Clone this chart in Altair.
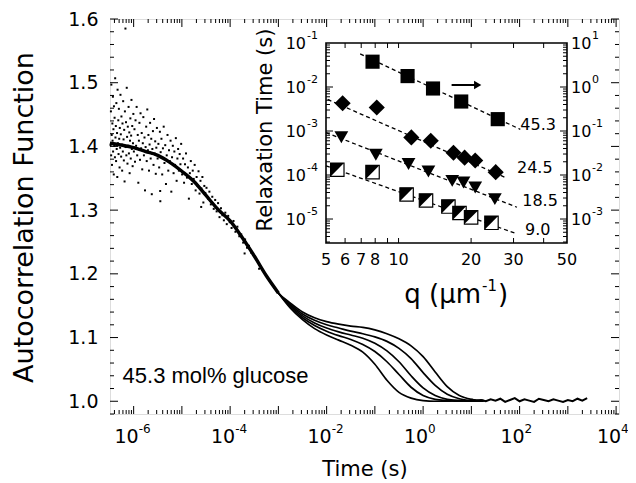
import altair as alt
import pandas as pd

FONT = "DejaVu Sans"

# ---------------- layout (plot-area pixels) ----------------
W, H = 509, 395
X_DOM = [10 ** -6.49, 10 ** 4.06]
Y_DOM = [0.98, 1.6]
IX0, IX1, IY0, IY1 = 216, 457, 24, 224     # inset frame inside the plot area
Q_DOM = [5, 50]
TAU_DOM = [10 ** -5.545, 0.1]

# ---------------- main panel data ----------------
common_logt = [-6.49, -6.25, -6.0, -5.75, -5.5, -5.25, -5.0, -4.75, -4.5, -4.25,
               -4.0, -3.75, -3.5, -3.25, -3.0]
common_g = [1.405, 1.402, 1.398, 1.392, 1.386, 1.375, 1.361, 1.345, 1.323, 1.301,
            1.283, 1.257, 1.228, 1.197, 1.170]
late_logt = [-2.75, -2.5, -2.25, -2.0, -1.75, -1.5, -1.25, -1.0, -0.75, -0.5,
             -0.25, 0.0, 0.25, 0.5, 0.75, 1.0, 1.25]
g_A = [1.146, 1.128, 1.114, 1.104, 1.096, 1.088, 1.077, 1.058, 1.033, 1.014,
       1.005, 1.001, 1.000, 1.000, 1.001, 1.000, 1.001]
g_B = [1.148, 1.131, 1.119, 1.110, 1.103, 1.097, 1.089, 1.078, 1.062, 1.042,
       1.022, 1.009, 1.003, 1.001, 1.000, 1.001, 1.000]
g_C = [1.150, 1.134, 1.123, 1.115, 1.109, 1.104, 1.099, 1.091, 1.079, 1.062,
       1.040, 1.021, 1.009, 1.003, 1.001, 1.000, 1.001]
g_D = [1.152, 1.137, 1.127, 1.120, 1.115, 1.110, 1.106, 1.101, 1.094, 1.083,
       1.067, 1.045, 1.025, 1.011, 1.004, 1.001, 1.000]
g_E = [1.154, 1.140, 1.131, 1.125, 1.121, 1.118, 1.116, 1.112, 1.106, 1.098,
       1.087, 1.070, 1.046, 1.023, 1.009, 1.003, 1.001]
tail_logt = [1.0, 1.1, 1.2, 1.3, 1.4, 1.5, 1.6, 1.7, 1.8, 1.9, 2.0, 2.1, 2.2, 2.3,
             2.4, 2.5, 2.6, 2.7, 2.8, 2.9, 3.0, 3.1, 3.2, 3.3, 3.4]
tail_g = [1.003, 1.001, 1.002, 1.000, 1.003, 1.001, 1.004, 0.999, 1.002, 1.005,
          1.000, 1.003, 1.001, 0.999, 1.004, 1.002, 1.000, 1.003, 1.001, 0.999,
          1.002, 1.000, 1.004, 1.001, 1.005]

# scattered raw points at short times (log10 t, g)
noise_pts = [
    (-6.478, 1.402), (-6.471, 1.455), (-6.466, 1.386), (-6.462, 1.497), (-6.455, 1.418),
    (-6.449, 1.371), (-6.441, 1.436), (-6.437, 1.409), (-6.430, 1.478), (-6.426, 1.392),
    (-6.419, 1.427), (-6.412, 1.356), (-6.408, 1.463), (-6.401, 1.401), (-6.395, 1.445),
    (-6.388, 1.383), (-6.383, 1.507), (-6.377, 1.414), (-6.369, 1.432), (-6.364, 1.377),
    (-6.358, 1.468), (-6.351, 1.396), (-6.344, 1.421), (-6.339, 1.352), (-6.333, 1.489),
    (-6.326, 1.405), (-6.318, 1.441), (-6.313, 1.388), (-6.306, 1.459), (-6.299, 1.412),
    (-6.292, 1.367), (-6.287, 1.429), (-6.280, 1.398), (-6.273, 1.481), (-6.266, 1.419),
    (-6.259, 1.384), (-6.253, 1.447), (-6.246, 1.403), (-6.238, 1.362), (-6.231, 1.436),
    (-6.224, 1.392), (-6.217, 1.471), (-6.209, 1.411), (-6.203, 1.378), (-6.196, 1.426),
    (-6.188, 1.345), (-6.181, 1.455), (-6.170, 1.585), (-6.166, 1.399), (-6.158, 1.438),
    (-6.151, 1.386), (-6.143, 1.492), (-6.136, 1.415), (-6.128, 1.373), (-6.121, 1.431),
    (-6.113, 1.401), (-6.105, 1.462), (-6.098, 1.389), (-6.090, 1.422), (-6.083, 1.358),
    (-6.075, 1.409), (-6.068, 1.444), (-6.060, 1.381), (-6.052, 1.417), (-6.045, 1.473),
    (-6.037, 1.396), (-6.029, 1.432), (-6.021, 1.369), (-6.014, 1.405), (-6.006, 1.451),
    (-5.995, 1.392), (-5.983, 1.427), (-5.972, 1.376), (-5.961, 1.441), (-5.949, 1.401),
    (-5.938, 1.462), (-5.926, 1.386), (-5.915, 1.418), (-5.903, 1.343), (-5.891, 1.409),
    (-5.880, 1.437), (-5.868, 1.379), (-5.857, 1.452), (-5.845, 1.397), (-5.833, 1.421),
    (-5.822, 1.364), (-5.810, 1.405), (-5.799, 1.446), (-5.787, 1.386), (-5.775, 1.414),
    (-5.764, 1.331), (-5.752, 1.399), (-5.740, 1.431), (-5.729, 1.377), (-5.717, 1.458),
    (-5.705, 1.394), (-5.694, 1.418), (-5.682, 1.362), (-5.670, 1.403), (-5.659, 1.437),
    (-5.647, 1.381), (-5.635, 1.412), (-5.624, 1.325), (-5.612, 1.396), (-5.600, 1.424),
    (-5.588, 1.371), (-5.577, 1.443), (-5.565, 1.389), (-5.553, 1.408), (-5.541, 1.357),
    (-5.530, 1.398), (-5.518, 1.429),
    (-5.503, 1.381), (-5.487, 1.404), (-5.471, 1.367), (-5.456, 1.423), (-5.447, 1.314),
    (-5.440, 1.391), (-5.424, 1.412), (-5.408, 1.356), (-5.393, 1.397), (-5.377, 1.431),
    (-5.361, 1.374), (-5.345, 1.402), (-5.330, 1.341), (-5.314, 1.386), (-5.298, 1.418),
    (-5.282, 1.362), (-5.267, 1.394), (-5.251, 1.377), (-5.235, 1.409), (-5.219, 1.329),
    (-5.204, 1.383), (-5.188, 1.401), (-5.172, 1.358), (-5.156, 1.392), (-5.141, 1.371),
    (-5.125, 1.413), (-5.109, 1.346), (-5.093, 1.381), (-5.078, 1.396), (-5.062, 1.362),
    (-5.046, 1.388), (-5.030, 1.372), (-5.015, 1.404),
    (-4.995, 1.356), (-4.975, 1.381), (-4.955, 1.343), (-4.935, 1.372), (-4.915, 1.389),
    (-4.895, 1.351), (-4.875, 1.367), (-4.855, 1.318), (-4.835, 1.358), (-4.815, 1.377),
    (-4.795, 1.341), (-4.775, 1.362), (-4.755, 1.349), (-4.735, 1.371), (-4.715, 1.331),
    (-4.695, 1.352), (-4.675, 1.338), (-4.655, 1.361), (-4.635, 1.326), (-4.615, 1.346),
    (-4.595, 1.334), (-4.575, 1.352), (-4.555, 1.312), (-4.535, 1.338), (-4.515, 1.327),
    (-4.490, 1.335), (-4.460, 1.318), (-4.430, 1.329), (-4.400, 1.309), (-4.370, 1.321),
    (-4.340, 1.302), (-4.310, 1.316), (-4.280, 1.298), (-4.250, 1.311), (-4.220, 1.289),
    (-4.190, 1.303), (-4.160, 1.292), (-4.130, 1.284), (-4.100, 1.296), (-4.070, 1.278),
    (-4.040, 1.291), (-4.010, 1.281), (-3.970, 1.272), (-3.930, 1.283), (-3.890, 1.266),
    (-3.850, 1.274), (-3.810, 1.259), (-3.770, 1.262), (-3.730, 1.249), (-3.690, 1.254),
    (-3.650, 1.241), (-3.610, 1.244), (-3.560, 1.233), (-3.400, 1.208), (-3.700, 1.232),
    (-4.600, 1.305), (-5.450, 1.330),
]

y_tick_labels = [1.0, 1.1, 1.2, 1.3, 1.4, 1.5, 1.6]
x_label_exps = [-6, -4, -2, 0, 2, 4]
annot_text = "45.3 mol% glucose"
annot_logt, annot_g = -6.23, 1.028

# ---------------- inset data ----------------
q45 = [7.8, 10.9, 13.9, 18.2, 25.8]
tau45 = [3.76, 1.77, 0.925, 0.468, 0.186]          # right axis (s)
q24 = [5.86, 8.12, 11.3, 13.6, 16.9, 18.8, 20.8, 25.3]
tau24 = [4.28e-3, 3.42e-3, 7.16e-4, 6.0e-4, 3.21e-4, 2.48e-4, 2.14e-4, 1.16e-4]
q18 = [5.79, 8.05, 11.0, 13.3, 16.7, 18.6, 20.8, 25.1]
tau18 = [7.2e-4, 2.88e-4, 1.78e-4, 1.20e-4, 7.36e-5, 6.73e-5, 5.19e-5, 2.83e-5]
q9 = [5.57, 7.8, 10.8, 13.0, 16.1, 17.9, 20.0, 24.3]
tau9 = [1.32e-4, 1.16e-4, 3.61e-5, 2.64e-5, 1.92e-5, 1.37e-5, 1.09e-5, 8.2e-6]

fit_series = ["45.3", "24.5", "18.5", "9.0"]
fit_q = [[6.93, 32.0], [5.08, 27.7], [5.0, 31.0], [5.0, 31.0]]
fit_tau = [[5.64, 0.109], [5.21e-3, 8.83e-5], [9.2e-4, 1.85e-5], [1.62e-4, 4.6e-6]]
fit_right_axis = [True, False, False, False]

series_labels = ["45.3", "24.5", "18.5", "9.0"]
label_q = [32.0, 31.0, 32.6, 33.5]
label_tau = [1.37e-3, 1.44e-4, 2.52e-5, 5.71e-6]   # left-axis units

arrow_q = [16.6, 21.3]
arrow_tau_right = 1.11

inset_x_labels = [5, 6, 7, 8, 10, 20, 30, 50]
inset_left_exps = [-1, -2, -3, -4, -5]
inset_right_exps = [1, 0, -1, -2, -3]

# ---------------- tables ----------------
rows = []
for name, vals in zip(["A", "B", "C", "D", "E"], [g_A, g_B, g_C, g_D, g_E]):
    for lt, g in zip(common_logt + late_logt, common_g + vals):
        rows.append({"curve": name, "t": 10 ** lt, "g": g})
curves_df = pd.DataFrame(rows)
band_df = pd.DataFrame({"t": [10 ** v for v in common_logt], "g": common_g})
tail_df = pd.DataFrame({"t": [10 ** v for v in tail_logt], "g": tail_g})
noise_df = pd.DataFrame({"t": [10 ** p[0] for p in noise_pts], "g": [p[1] for p in noise_pts]})
annot_df = pd.DataFrame({"t": [10 ** annot_logt], "g": [annot_g], "label": [annot_text]})
xlab_df = pd.DataFrame({"t": [10.0 ** e for e in x_label_exps], "exp": [str(e) for e in x_label_exps]})

xt_major = pd.DataFrame({"t": [10.0 ** k for k in range(-6, 5)]})
xt_minor = pd.DataFrame({"t": [m * 10.0 ** k for k in range(-7, 4) for m in range(2, 10)
                               if X_DOM[0] <= m * 10.0 ** k <= X_DOM[1]]})
yt_major = pd.DataFrame({"g": y_tick_labels})
yt_minor = pd.DataFrame({"g": [round(1.0 + 0.02 * i, 2) for i in range(-1, 31) if i % 5 != 0]})

xs = alt.Scale(type="log", domain=X_DOM, nice=False)
ys = alt.Scale(domain=Y_DOM, nice=False, zero=False)

x_axis = alt.Axis(labels=False, ticks=False, tickSize=0, domain=False, grid=False,
                  title="Time (s)", titleFontSize=21, titleX=W / 2, titleY=61,
                  titleAlign="center", titleBaseline="alphabetic", titleFont=FONT,
                  titleFontWeight="normal", titleColor="black")
y_axis = alt.Axis(values=y_tick_labels, format=".1f", ticks=False, tickSize=0, domain=False,
                  grid=False, labelFontSize=19, labelPadding=12, labelFont=FONT,
                  labelColor="black", labelOverlap=False,
                  title="Autocorrelation Function", titleFontSize=27, titleX=-86, titleY=198,
                  titleAngle=270, titleAlign="center", titleBaseline="middle",
                  titleFont=FONT, titleFontWeight="normal", titleColor="black")


def mX(field="t"):
    return alt.X(f"{field}:Q", scale=xs, axis=x_axis)


def mY(field="g"):
    return alt.Y(f"{field}:Q", scale=ys, axis=y_axis)


curves = alt.Chart(curves_df).mark_line(color="black", strokeWidth=1.7, interpolate="monotone").encode(
    x=mX(), y=mY(), detail="curve:N")
band = alt.Chart(band_df).mark_line(color="black", strokeWidth=3.4, interpolate="monotone").encode(
    x=mX(), y=mY())
tail = alt.Chart(tail_df).mark_line(color="black", strokeWidth=2.0).encode(x=mX(), y=mY())
noise = alt.Chart(noise_df).mark_square(size=4, color="black", opacity=1).encode(x=mX(), y=mY())
annot = alt.Chart(annot_df).mark_text(font="Liberation Sans", fontSize=22, align="left",
                                      baseline="alphabetic", color="black").encode(
    x=mX(), y=mY(), text="label:N")
xlab_base = alt.Chart(xlab_df).mark_text(text="10", font=FONT, fontSize=19, align="right",
                                         baseline="alphabetic", dx=5, color="black").encode(
    x=mX(), y=alt.value(H + 29))
xlab_exp = alt.Chart(xlab_df).mark_text(font=FONT, fontSize=12, align="left",
                                        baseline="alphabetic", dx=5, color="black").encode(
    x=mX(), y=alt.value(H + 19), text="exp:N")


def xticks(df, length, top):
    y0, y1 = (0, length) if top else (H, H - length)
    return alt.Chart(df).mark_rule(color="black", strokeWidth=1).encode(
        x=mX(), y=alt.value(y0), y2=alt.value(y1))


def yticks(df, length, right):
    x0, x1 = (W, W - length) if right else (0, length)
    return alt.Chart(df).mark_rule(color="black", strokeWidth=1).encode(
        y=mY(), x=alt.value(x0), x2=alt.value(x1))


main = alt.layer(
    curves, band, tail, noise,
    xticks(xt_major, 8, False), xticks(xt_minor, 4, False),
    xticks(xt_major, 8, True), xticks(xt_minor, 4, True),
    yticks(yt_major, 8, False), yticks(yt_minor, 4, False),
    yticks(yt_major, 8, True), yticks(yt_minor, 4, True),
    xlab_base, xlab_exp, annot,
)

# ---------------- inset ----------------
qs = alt.Scale(type="log", domain=Q_DOM, range=[IX0, IX1], nice=False)
ts = alt.Scale(type="log", domain=TAU_DOM, range=[IY1, IY0], nice=False)


def iX(field="q"):
    return alt.X(f"{field}:Q", scale=qs, axis=None)


def iY(field="tau"):
    return alt.Y(f"{field}:Q", scale=ts, axis=None)


frame_df = pd.DataFrame({"q0": [Q_DOM[0]], "q1": [Q_DOM[1]], "s0": [TAU_DOM[0]], "s1": [TAU_DOM[1]]})
frame = alt.Chart(frame_df).mark_rect(fill="white", stroke="black", strokeWidth=1.6).encode(
    x=iX("q0"), x2="q1:Q", y=iY("s0"), y2="s1:Q")

qt_df = pd.DataFrame({"q": [6, 7, 8, 9, 10, 20, 30, 40]})
tt_major = pd.DataFrame({"tau": [1e-2, 1e-3, 1e-4, 1e-5]})
tt_minor = pd.DataFrame({"tau": [m * 10.0 ** k for k in range(-6, -1) for m in range(2, 10)
                                 if TAU_DOM[0] <= m * 10.0 ** k <= TAU_DOM[1]]})


def iqticks(df, length, top):
    y0, y1 = (IY0, IY0 + length) if top else (IY1, IY1 - length)
    return alt.Chart(df).mark_rule(color="black", strokeWidth=1).encode(
        x=iX(), y=alt.value(y0), y2=alt.value(y1))


def itticks(df, length, right):
    x0, x1 = (IX1, IX1 - length) if right else (IX0, IX0 + length)
    return alt.Chart(df).mark_rule(color="black", strokeWidth=1).encode(
        y=iY(), x=alt.value(x0), x2=alt.value(x1))


fit_rows = []
for s, qq, tt, right in zip(fit_series, fit_q, fit_tau, fit_right_axis):
    for qv, tv in zip(qq, tt):
        fit_rows.append({"series": s, "q": qv, "tau": tv / 100 if right else tv})
fits = alt.Chart(pd.DataFrame(fit_rows)).mark_line(color="black", strokeWidth=1.3,
                                                   strokeDash=[4, 3]).encode(
    x=iX(), y=iY(), detail="series:N")

sq45 = alt.Chart(pd.DataFrame({"q": q45, "tau_r": tau45})).transform_calculate(
    tau="datum.tau_r / 100").mark_point(shape="square", filled=True, size=200, color="black",
                                        opacity=1).encode(x=iX(), y=iY())
dia24 = alt.Chart(pd.DataFrame({"q": q24, "tau": tau24})).mark_point(
    shape="diamond", filled=True, size=260, color="black", opacity=1).encode(x=iX(), y=iY())
tri18 = alt.Chart(pd.DataFrame({"q": q18, "tau": tau18})).mark_point(
    shape="triangle-down", filled=True, size=190, color="black", opacity=1).encode(x=iX(), y=iY())
df9 = pd.DataFrame({"q": q9, "tau": tau9})
half9_open = alt.Chart(df9).mark_point(shape="square", size=180, fill="white", stroke="black",
                                       strokeWidth=1.2, filled=True, opacity=1).encode(x=iX(), y=iY())
half9_fill = alt.Chart(df9).mark_point(shape="M -1 -1 L 1 -1 L -1 1 Z", size=180, filled=True,
                                       color="black", opacity=1).encode(x=iX(), y=iY())

lab_df = pd.DataFrame({"q": label_q, "tau": label_tau, "label": series_labels})
labs = alt.Chart(lab_df).mark_text(font=FONT, fontSize=16, align="left", baseline="middle",
                                   color="black").encode(x=iX(), y=iY(), text="label:N")

arrow_df = pd.DataFrame({"q": [arrow_q[0]], "q2": [arrow_q[1]], "tau_r": [arrow_tau_right]})
arrow_line = alt.Chart(arrow_df).transform_calculate(tau="datum.tau_r / 100").mark_rule(
    color="black", strokeWidth=2).encode(x=iX(), x2="q2:Q", y=iY())
arrow_head = alt.Chart(arrow_df).transform_calculate(tau="datum.tau_r / 100").mark_point(
    shape="triangle-right", filled=True, size=70, color="black", opacity=1).encode(x=iX("q2"), y=iY())

ixl_df = pd.DataFrame({"q": inset_x_labels, "label": [str(v) for v in inset_x_labels]})
ixl = alt.Chart(ixl_df).mark_text(font=FONT, fontSize=16, align="center", baseline="middle",
                                  color="black").encode(x=iX(), y=alt.value(IY1 + 17), text="label:N")

il_df = pd.DataFrame({"tau": [10.0 ** e for e in inset_left_exps],
                      "exp": [str(e) for e in inset_left_exps]})
il_base = alt.Chart(il_df).mark_text(text="10", font=FONT, fontSize=16, align="right",
                                     baseline="middle", dy=1, color="black").encode(
    x=alt.value(IX0 - 20), y=iY())
il_exp = alt.Chart(il_df).mark_text(font=FONT, fontSize=11, align="left", baseline="middle",
                                    dy=-7, color="black").encode(
    x=alt.value(IX0 - 19), y=iY(), text="exp:N")

ir_df = pd.DataFrame({"tau": [10.0 ** (e - 2) for e in inset_right_exps],
                      "exp": [str(e) for e in inset_right_exps]})
ir_base = alt.Chart(ir_df).mark_text(text="10", font=FONT, fontSize=16, align="left",
                                     baseline="middle", dy=1, color="black").encode(
    x=alt.value(IX1 + 4), y=iY())
ir_exp = alt.Chart(ir_df).mark_text(font=FONT, fontSize=11, align="left", baseline="middle",
                                    dy=-7, color="black").encode(
    x=alt.value(IX1 + 25), y=iY(), text="exp:N")

ytitle = alt.Chart(pd.DataFrame({"label": ["Relaxation Time (s)"]})).mark_text(
    font=FONT, fontSize=21, angle=270, align="center", baseline="middle", color="black").encode(
    x=alt.value(156), y=alt.value(111), text="label:N")
q_a = alt.Chart(pd.DataFrame({"label": ["q (\u03bcm"]})).mark_text(
    font=FONT, fontSize=26, align="right", baseline="alphabetic", color="black").encode(
    x=alt.value(371), y=alt.value(284), text="label:N")
q_b = alt.Chart(pd.DataFrame({"label": ["-1"]})).mark_text(
    font=FONT, fontSize=15, align="left", baseline="alphabetic", color="black").encode(
    x=alt.value(372), y=alt.value(272), text="label:N")
q_c = alt.Chart(pd.DataFrame({"label": [")"]})).mark_text(
    font=FONT, fontSize=26, align="left", baseline="alphabetic", color="black").encode(
    x=alt.value(388), y=alt.value(284), text="label:N")

inset = alt.layer(
    frame,
    iqticks(qt_df, 5, False), iqticks(qt_df, 5, True),
    itticks(tt_major, 7, False), itticks(tt_minor, 4, False),
    itticks(tt_major, 7, True), itticks(tt_minor, 4, True),
    fits, sq45, dia24, tri18, half9_open, half9_fill, labs, arrow_line, arrow_head,
    ixl, il_base, il_exp, ir_base, ir_exp, ytitle, q_a, q_b, q_c,
)

chart = alt.layer(main, inset).resolve_scale(
    x="independent", y="independent").resolve_axis(
    x="independent", y="independent").properties(
    width=W, height=H,
    autosize=alt.AutoSizeParams(type="none"),
    padding={"left": 102, "top": 11, "right": 9, "bottom": 68},
).configure_view(stroke="black", strokeWidth=1.6).configure(background="white")

chart.save("out.html", embed_options={"renderer": "svg", "actions": False})
